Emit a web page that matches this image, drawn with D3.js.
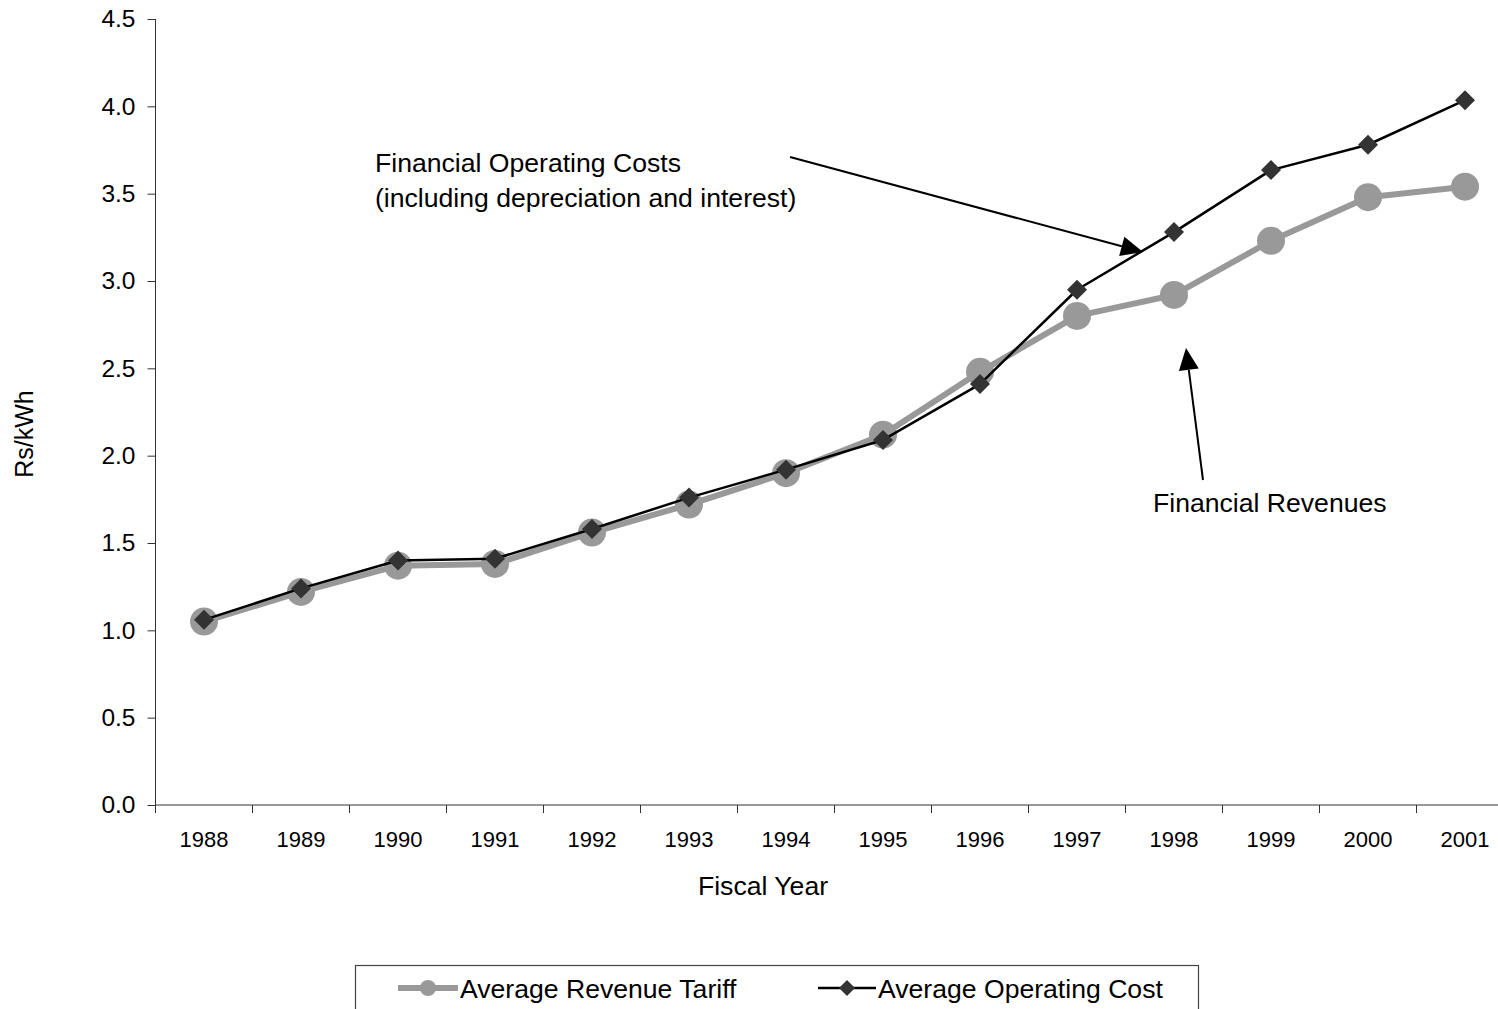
<!DOCTYPE html>
<html>
<head>
<meta charset="utf-8">
<script src="https://cdn.jsdelivr.net/npm/d3@7"></script>
<style>
  html, body { margin: 0; padding: 0; background: #fff; overflow: hidden; }
  svg { display: block; font-family: "Liberation Sans", Arial, sans-serif; }
</style>
</head>
<body>
<svg id="chart" width="1498" height="1009"></svg>
<script>
const years = ["1988","1989","1990","1991","1992","1993","1994","1995","1996","1997","1998","1999","2000","2001"];
const revenueTariff = [1.05, 1.22, 1.37, 1.38, 1.56, 1.72, 1.90, 2.12, 2.48, 2.80, 2.92, 3.23, 3.48, 3.54];
const operatingCost = [1.06, 1.24, 1.40, 1.41, 1.58, 1.76, 1.92, 2.09, 2.41, 2.95, 3.28, 3.635, 3.78, 4.035];
const yTicks = [0, 0.5, 1.0, 1.5, 2.0, 2.5, 3.0, 3.5, 4.0, 4.5];
const seriesNames = ["Average Revenue Tariff", "Average Operating Cost"];
const xTitle = "Fiscal Year";
const yTitle = "Rs/kWh";
const noteCost = ["Financial Operating Costs", "(including depreciation and interest)"];
const noteRevenue = "Financial Revenues";

const svg = d3.select("#chart");
const plotLeft = 155.5, plotRight = 1513.5, plotTop = 19, plotBottom = 805;
const bigFont = 26.6;

const x = d3.scaleBand().domain(years).range([plotLeft, plotRight]).paddingInner(0).paddingOuter(0);
const y = d3.scaleLinear().domain([0, 4.5]).range([plotBottom, plotTop]);
const cx = d => x(d) + x.bandwidth() / 2;

// Y axis
const yAxis = svg.append("g")
  .attr("transform", `translate(${plotLeft},0)`)
  .call(d3.axisLeft(y).tickValues(yTicks).tickFormat(d3.format(".1f")).tickSize(8).tickPadding(12).tickSizeOuter(0));
yAxis.selectAll("text").attr("font-size", 24.5).attr("fill", "#000").attr("font-family", "Liberation Sans, Arial, sans-serif");
yAxis.selectAll("line").attr("stroke", "#333");
yAxis.select(".domain").attr("stroke", "#333").attr("d", `M0,${plotBottom}V${plotTop}`);

// X axis (labels centered in bands, ticks at band boundaries)
const xAxis = svg.append("g")
  .attr("transform", `translate(0,${plotBottom})`)
  .call(d3.axisBottom(x).tickSize(0).tickPadding(26).tickSizeOuter(0));
xAxis.selectAll("text").attr("font-size", 22).attr("fill", "#000").attr("font-family", "Liberation Sans, Arial, sans-serif");
xAxis.select(".domain").attr("stroke", "#333").attr("d", `M${plotLeft},0H${plotRight}`);
xAxis.selectAll(".bound")
  .data(years.concat(["end"]))
  .join("line")
  .attr("class", "bound")
  .attr("x1", (d, i) => i < years.length ? x(d) : plotRight)
  .attr("x2", (d, i) => i < years.length ? x(d) : plotRight)
  .attr("y1", 0).attr("y2", 8)
  .attr("stroke", "#333");

// Axis titles
svg.append("text").attr("x", 763).attr("y", 895).attr("text-anchor", "middle")
  .attr("font-size", bigFont).text(xTitle);
svg.append("text").attr("transform", "translate(33,434) rotate(-90)").attr("text-anchor", "middle")
  .attr("font-size", 25).text(yTitle);

// Revenue series (gray, circles)
const revData = years.map((d, i) => [d, revenueTariff[i]]);
const costData = years.map((d, i) => [d, operatingCost[i]]);
const line = d3.line().x(d => cx(d[0])).y(d => y(d[1]));

svg.append("path").datum(revData).attr("d", line)
  .attr("fill", "none").attr("stroke", "#999999").attr("stroke-width", 6).attr("stroke-linejoin", "round");
svg.selectAll(".rev").data(revData).join("circle").attr("class", "rev")
  .attr("cx", d => cx(d[0])).attr("cy", d => y(d[1])).attr("r", 14).attr("fill", "#999999");

// Cost series (black line, dark diamonds)
svg.append("path").datum(costData).attr("d", line)
  .attr("fill", "none").attr("stroke", "#000").attr("stroke-width", 2.5).attr("stroke-linejoin", "round");
const diamond = (px, py, s) => `M${px},${py - s}L${px + s},${py}L${px},${py + s}L${px - s},${py}Z`;
svg.selectAll(".cost").data(costData).join("path").attr("class", "cost")
  .attr("d", d => diamond(cx(d[0]), y(d[1]), 10)).attr("fill", "#333333");

// Annotations
function arrow(x1, y1, x2, y2, len, halfW) {
  const ang = Math.atan2(y2 - y1, x2 - x1);
  const bx = x2 - len * Math.cos(ang), by = y2 - len * Math.sin(ang);
  const nx = -Math.sin(ang), ny = Math.cos(ang);
  svg.append("line").attr("x1", x1).attr("y1", y1).attr("x2", bx).attr("y2", by)
    .attr("stroke", "#000").attr("stroke-width", 2);
  svg.append("path")
    .attr("d", `M${x2},${y2}L${bx + nx * halfW},${by + ny * halfW}L${bx - nx * halfW},${by - ny * halfW}Z`)
    .attr("fill", "#000");
}
svg.append("text").attr("x", 375).attr("y", 172).attr("font-size", bigFont).text(noteCost[0]);
svg.append("text").attr("x", 375).attr("y", 207).attr("font-size", bigFont).text(noteCost[1]);
arrow(790, 157, 1143, 252, 22, 10);

svg.append("text").attr("x", 1153).attr("y", 512).attr("font-size", bigFont).text(noteRevenue);
arrow(1203, 480, 1186, 348, 22, 10);

// Legend
const lg = svg.append("g");
lg.append("rect").attr("x", 355.5).attr("y", 965.5).attr("width", 843).attr("height", 60)
  .attr("fill", "#fff").attr("stroke", "#444").attr("stroke-width", 1.2);
lg.append("line").attr("x1", 398).attr("x2", 458).attr("y1", 988).attr("y2", 988)
  .attr("stroke", "#999999").attr("stroke-width", 6);
lg.append("circle").attr("cx", 428).attr("cy", 988).attr("r", 8).attr("fill", "#999999");
lg.append("text").attr("x", 460).attr("y", 998).attr("font-size", bigFont).text(seriesNames[0]);
lg.append("line").attr("x1", 818).attr("x2", 876).attr("y1", 988).attr("y2", 988)
  .attr("stroke", "#000").attr("stroke-width", 2.5);
lg.append("path").attr("d", diamond(847, 988, 8)).attr("fill", "#333333");
lg.append("text").attr("x", 878).attr("y", 998).attr("font-size", bigFont).text(seriesNames[1]);
</script>
</body>
</html>
